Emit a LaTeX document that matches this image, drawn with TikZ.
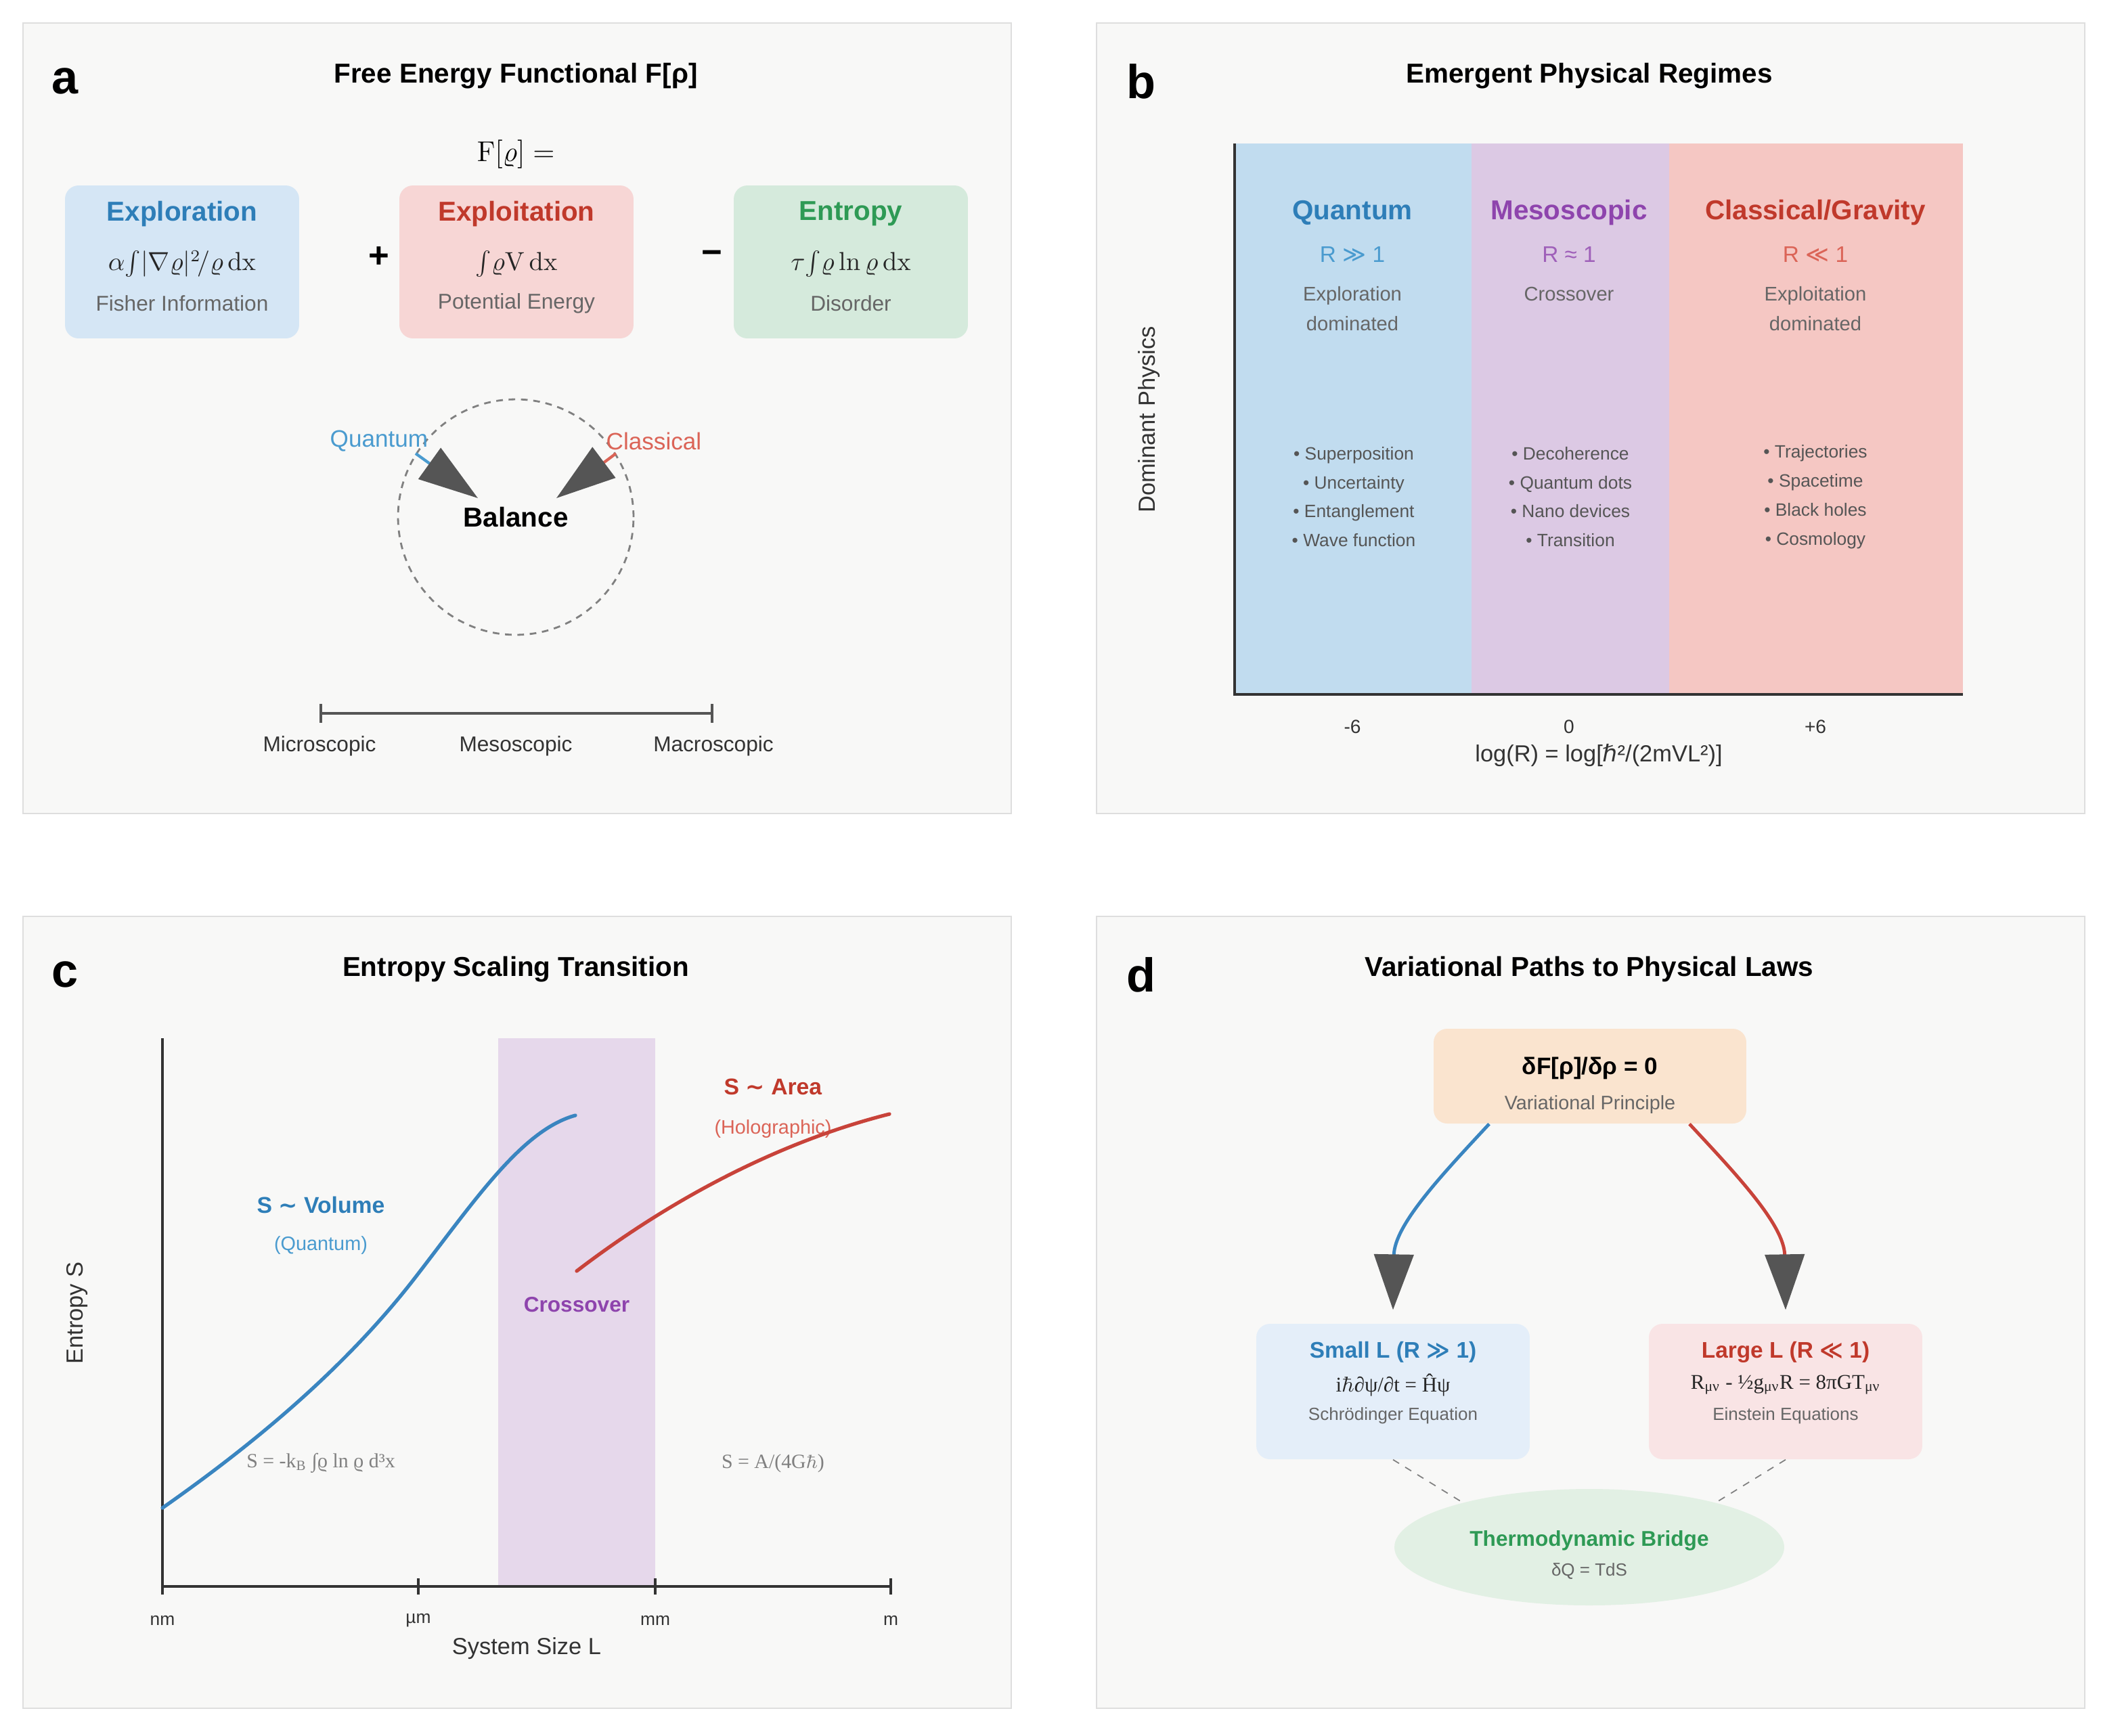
\documentclass[tikz,border=0pt]{standalone}
\usepackage[no-math]{fontspec}
\setmainfont{Liberation Sans}
\newfontfamily\symf{DejaVu Sans}
\newfontfamily\serf{Liberation Serif}
\usetikzlibrary{arrows.meta,shapes.geometric}

\definecolor{panelbg}{HTML}{F8F8F7}
\definecolor{panelline}{HTML}{DEDEDE}
\definecolor{qblue}{HTML}{2E7EB8}
\definecolor{qlight}{HTML}{4A9BCF}
\definecolor{cred}{HTML}{C0392B}
\definecolor{clight}{HTML}{DB6457}
\definecolor{mpurple}{HTML}{8E44AD}
\definecolor{egreen}{HTML}{2E9A55}
\definecolor{txtgray}{HTML}{666666}
\definecolor{bulgray}{HTML}{555555}
\definecolor{headgray}{HTML}{555555}
\definecolor{axisgray}{HTML}{333333}
\definecolor{boxblue}{HTML}{D5E6F5}
\definecolor{boxred}{HTML}{F7D6D5}
\definecolor{boxgreen}{HTML}{D5EADC}
\definecolor{bandblue}{HTML}{C1DCEF}
\definecolor{bandpurple}{HTML}{DCC9E4}
\definecolor{bandred}{HTML}{F5C7C3}
\definecolor{crossband}{HTML}{E6D8EB}
\definecolor{boxorange}{HTML}{FAE4CF}
\definecolor{lawblue}{HTML}{E4EEF9}
\definecolor{lawred}{HTML}{F9E4E5}
\definecolor{bridgegreen}{HTML}{E2F0E4}
\definecolor{curveblue}{HTML}{3A85C0}
\definecolor{curvered}{HTML}{C8433A}

\newcommand\fsz[2]{\fontsize{#1}{#2}\selectfont}

\begin{document}
\begin{tikzpicture}[x=0.02cm,y=-0.02cm,every node/.style={inner sep=1pt},
  panel/.style={fill=panelbg,draw=panelline,line width=0.8pt},
  tag/.style={font=\bfseries\fsz{20}{24}},
  ttl/.style={font=\bfseries\fsz{11.5}{14}},
  termbox/.style={rectangle,rounded corners=0.2cm,minimum width=3.46cm,minimum height=2.26cm},
  termttl/.style={font=\bfseries\fsz{11.5}{14}},
  formula/.style={font=\fsz{10.5}{12},text=black!85},
  sublbl/.style={font=\fsz{9}{11},text=txtgray},
  axis/.style={draw=axisgray,line width=0.9pt},
  axlbl/.style={font=\fsz{9.8}{12},text=axisgray},
  ticklbl/.style={font=\fsz{7.5}{9},text=axisgray},
  regttl/.style={font=\bfseries\fsz{11.5}{14}},
  regR/.style={font=\fsz{9.5}{12}},
  regdesc/.style={font=\fsz{8.3}{12.5},text=txtgray,align=center},
  bullets/.style={font=\fsz{7.5}{12.2},text=bulgray,align=center},
  lawtxt/.style={inner sep=0pt},
  bighead/.style={-{Triangle[length=0.88cm,width=0.56cm,color=headgray]}},
  lawhead/.style={-{Triangle[length=0.82cm,width=0.58cm,color=headgray]}},
  lawbox/.style={rectangle,rounded corners=0.2cm,minimum width=4.04cm,minimum height=2cm}]

\fill[white] (0,0) rectangle (1567.5,1282);
\useasboundingbox (0,0) rectangle (1567.5,1282);

% ---------------- panel a
\draw[panel] (17,17) rectangle (747,601);
\node[tag] (taga) at (48,60) {a};
\node[ttl] (ttla) at (381,56) {Free Energy Functional F[ρ]};
\node[font=\fsz{12.5}{14}] (feq) at (381,114) {$\mathrm{F}[\varrho] =$};

\node[termbox,fill=boxblue] (explo) at (134.5,193.5) {};
\node[termbox,fill=boxred] (exploit) at (381.5,193.5) {};
\node[termbox,fill=boxgreen] (entro) at (628.5,193.5) {};
\node[termttl,text=qblue] (explot) at (134.5,158) {Exploration};
\node[termttl,text=cred] (exploitt) at (381.5,158) {Exploitation};
\node[termttl,text=egreen] (entrot) at (628.5,158) {Entropy};
\node[formula] (explof) at (134.5,195) {$\alpha\!\int\!|\nabla\varrho|^2\!/\varrho\,\mathrm{dx}$};
\node[formula] (exploitf) at (381.5,195) {$\int\!\varrho\mathrm{V}\,\mathrm{dx}$};
\node[formula] (entrof) at (628.5,195) {$\tau\!\int\!\varrho\ln\varrho\,\mathrm{dx}$};
\node[sublbl] (explos) at (134.5,224) {Fisher Information};
\node[sublbl] (exploits) at (381.5,224) {Potential Energy};
\node[sublbl] (entros) at (628.5,224) {Disorder};
\node[font=\bfseries\fsz{15}{16}] (plus) at (280,190) {+};
\node[font=\bfseries\fsz{15}{16}] (minus) at (526,190) {−};

\node[circle,draw=gray,dashed,dash pattern=on 2.8pt off 2.4pt,line width=0.8pt,minimum size=3.48cm,
      font=\bfseries\fsz{11.5}{14}] (bal) at (381,382) {Balance};
\node[font=\fsz{10}{12},text=qlight] (qlab) at (280,326) {Quantum};
\node[font=\fsz{10}{12},text=clight] (clab) at (483,326) {Classical};
\coordinate (qs) at (307,335);
\coordinate (qt) at (353,368);
\coordinate (cs) at (455,335);
\coordinate (ct) at (411,368);
\draw[bighead,draw=qlight,line width=1.2pt] (qs) -- (qt);
\draw[bighead,draw=clight,line width=1.2pt] (cs) -- (ct);

\coordinate (smic) at (236,527);
\coordinate (smac) at (527,527);
\draw[{Bar[width=0.28cm]}-{Bar[width=0.28cm]},draw=bulgray,line width=1.1pt] (smic) -- (smac);
\node[font=\fsz{9}{11},text=axisgray] (lmic) at (236,551) {Microscopic};
\node[font=\fsz{9}{11},text=axisgray] (lmes) at (381,551) {Mesoscopic};
\node[font=\fsz{9}{11},text=axisgray] (lmac) at (527,551) {Macroscopic};

% ---------------- panel b
\draw[panel] (810,17) rectangle (1540,601);
\node[tag] (tagb) at (843,60) {b};
\node[ttl] (ttlb) at (1174,56) {Emergent Physical Regimes};

\fill[bandblue] (912,106) rectangle (1087,513);
\fill[bandpurple] (1087,106) rectangle (1233,513);
\fill[bandred] (1233,106) rectangle (1450,513);
\coordinate (btop) at (912,106);
\coordinate (bo) at (912,513);
\coordinate (bright) at (1450,513);
\draw[axis] (btop) -- (bo) -- (bright);

\node[regttl,text=qblue] (qhd) at (999,157) {Quantum};
\node[regR,text=qlight] (qR) at (999,188) {R {\symf ≫} 1};
\node[regdesc] (qdesc) at (999,228) {Exploration\\dominated};
\node[bullets] (qbul) at (1000,367) {• Superposition\\• Uncertainty\\• Entanglement\\• Wave function};

\node[regttl,text=mpurple] (mhd) at (1159,157) {Mesoscopic};
\node[regR,text=mpurple!85] (mR) at (1159,188) {R ≈ 1};
\node[regdesc] (mdesc) at (1159,217) {Crossover};
\node[bullets] (mbul) at (1160,367) {• Decoherence\\• Quantum dots\\• Nano devices\\• Transition};

\node[regttl,text=cred] (chd) at (1341,157) {Classical/Gravity};
\node[regR,text=clight] (cR) at (1341,188) {R {\symf ≪} 1};
\node[regdesc] (cdesc) at (1341,228) {Exploitation\\dominated};
\node[bullets] (cbul) at (1341,367) {• Trajectories\\• Spacetime\\• Black holes\\• Cosmology};

\node[ticklbl,font=\fsz{8}{10}] (tm6) at (999,537) {-6};
\node[ticklbl,font=\fsz{8}{10}] (t0) at (1159,537) {0};
\node[ticklbl,font=\fsz{8}{10}] (tp6) at (1341,537) {+6};
\node[axlbl] (bxlab) at (1181,558) {log(R) = log[{\symf\itshape ℏ}²/(2mVL²)]};
\node[axlbl,rotate=90] (bylab) at (849,310) {Dominant Physics};

% ---------------- panel c
\draw[panel] (17,677) rectangle (747,1262);
\node[tag] (tagc) at (48,720) {c};
\node[ttl] (ttlc) at (381,716) {Entropy Scaling Transition};

\fill[crossband] (368,767) rectangle (484,1172);
\coordinate (ctop) at (120,767);
\coordinate (co) at (120,1172);
\coordinate (cright) at (658,1172);
\draw[axis] (ctop) -- (co) -- (cright);
\draw[axis] (120,1166) -- (120,1178);
\draw[axis] (309,1166) -- (309,1178);
\draw[axis] (484,1166) -- (484,1178);
\draw[axis] (658,1166) -- (658,1178);
\node[ticklbl] (tnm) at (120,1197) {nm};
\node[ticklbl] (tum) at (309,1197) {µm};
\node[ticklbl] (tmm) at (484,1197) {mm};
\node[ticklbl] (tm) at (658,1197) {m};
\node[axlbl] (cxlab) at (389,1218) {System Size L};
\node[axlbl,rotate=90] (cylab) at (57,970) {Entropy S};

\node[font=\bfseries\fsz{9.6}{12},text=qblue] (svol) at (237,890) {S {\symf ∼} Volume};
\node[font=\fsz{8.2}{10},text=qlight] (svolq) at (237,920) {(Quantum)};
\node[font=\bfseries\fsz{9.6}{12},text=cred] (sarea) at (571,803) {S {\symf ∼} Area};
\node[font=\fsz{8.2}{10},text=clight] (sareah) at (571,834) {(Holographic)};
\node[font=\bfseries\fsz{9}{11},text=mpurple] (cross) at (426,964) {Crossover};
\node[font=\fsz{8.5}{10},text=gray] (svolf) at (237,1081) {\serf S = -k\textsubscript{B} ∫ϱ ln ϱ d³x};
\node[font=\fsz{8.5}{10},text=gray] (sareaf) at (571,1081) {\serf S = A/(4G$\hbar$)};

\draw[curveblue,line width=1.5pt,line cap=round] (120,1114) .. controls (190,1065) and (255,1010) .. (305,946)
  .. controls (350,888) and (385,835) .. (425,824);
\draw[curvered,line width=1.5pt,line cap=round] (426,939) .. controls (490,890) and (570,845) .. (657,823);

% ---------------- panel d
\draw[panel] (810,677) rectangle (1540,1262);
\node[tag] (tagd) at (843,720) {d};
\node[ttl] (ttld) at (1174,716) {Variational Paths to Physical Laws};

\node[rectangle,rounded corners=0.2cm,fill=boxorange,minimum width=4.62cm,minimum height=1.4cm] (vp) at (1174.5,795) {};
\node[font=\bfseries\fsz{10}{12}] (vpt) at (1174.5,789) {δF[ρ]/δρ = 0};
\node[font=\fsz{8.2}{10},text=txtgray] (vps) at (1174.5,816) {Variational Principle};

\node[lawbox,fill=lawblue] (small) at (1029,1028) {};
\node[lawbox,fill=lawred] (large) at (1319,1028) {};
\node[lawtxt,font=\bfseries\fsz{9.5}{12},text=qblue] (smallt) at (1029,999) {Small L (R {\symf ≫} 1)};
\node[lawtxt,font=\fsz{8.8}{11},text=black!85] (smallf) at (1029,1023) {\serf i$\hbar$∂ψ/∂t = Ĥψ};
\node[lawtxt,font=\fsz{7.4}{9},text=txtgray] (smalls) at (1029,1046) {Schrödinger Equation};
\node[lawtxt,font=\bfseries\fsz{9.5}{12},text=cred] (larget) at (1319,999) {Large L (R {\symf ≪} 1)};
\node[lawtxt,font=\fsz{8.8}{11},text=black!85] (largef) at (1319,1023) {\serf R\textsubscript{μν} - ½g\textsubscript{μν}R = 8πGT\textsubscript{μν}};
\node[lawtxt,font=\fsz{7.4}{9},text=txtgray] (larges) at (1319,1046) {Einstein Equations};

\coordinate (bl) at (1100,1122);
\coordinate (br) at (1248,1122);
\draw[gray,dashed,line width=0.5pt] (small.south) -- (bl);
\draw[gray,dashed,line width=0.5pt] (large.south) -- (br);
\node[ellipse,fill=bridgegreen,minimum width=5.76cm,minimum height=1.72cm] (bridge) at (1174,1143) {};
\node[font=\bfseries\fsz{9}{11},text=egreen] (bridget) at (1174,1138) {Thermodynamic Bridge};
\node[font=\fsz{7.4}{9},text=txtgray] (bridges) at (1174,1161) {δQ = TdS};

\draw[lawhead,draw=curveblue,line width=1.4pt] ([xshift=-1.49cm]vp.south) .. controls (1065,868) and (1030,905) .. ([yshift=0.2cm]small.north);
\draw[lawhead,draw=curvered,line width=1.4pt] ([xshift=1.47cm]vp.south) .. controls (1283,868) and (1318,905) .. ([yshift=0.2cm]large.north);

\end{tikzpicture}
\end{document}
